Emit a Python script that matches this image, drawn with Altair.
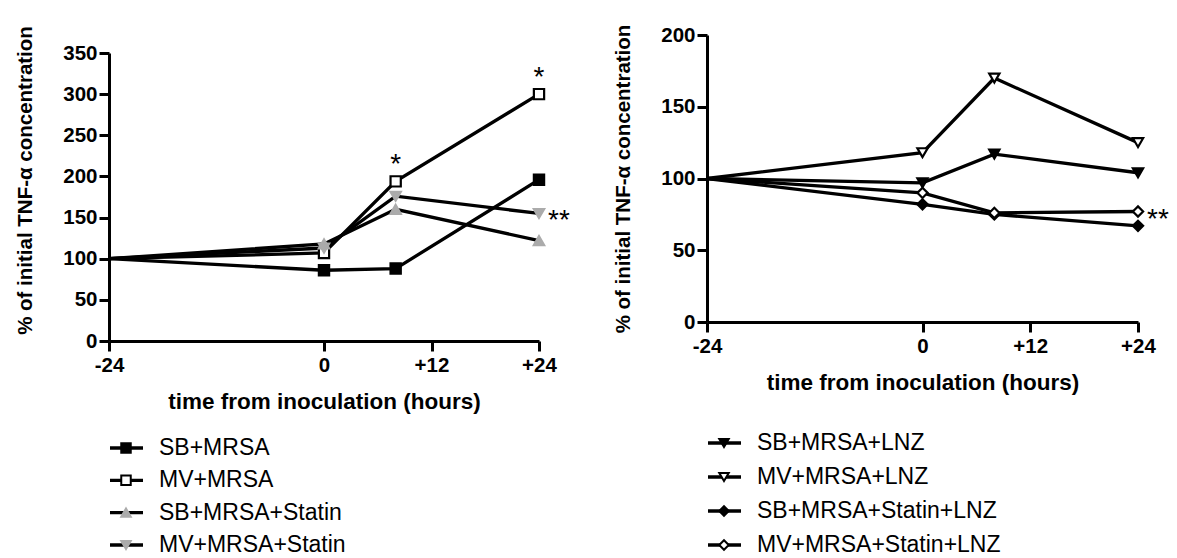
import altair as alt
import pandas as pd

FONT = "Liberation Sans"

# ---------------- data ----------------
time_h = [-24, 0, 8, 24]

left_series = ["SB+MRSA", "MV+MRSA", "SB+MRSA+Statin", "MV+MRSA+Statin"]
sb_mrsa = [100, 86, 88, 196]
mv_mrsa = [100, 107, 194, 300]
sb_mrsa_statin = [100, 118, 160, 122]
mv_mrsa_statin = [100, 113, 176, 155]

right_series = ["SB+MRSA+LNZ", "MV+MRSA+LNZ", "SB+MRSA+Statin+LNZ", "MV+MRSA+Statin+LNZ"]
sb_mrsa_lnz = [100, 97, 117, 104]
mv_mrsa_lnz = [100, 118, 170, 125]
sb_mrsa_statin_lnz = [100, 82, 75, 67]
mv_mrsa_statin_lnz = [100, 90, 76, 77]

x_ticks = [-24, 0, 12, 24]
left_y_ticks = [0, 50, 100, 150, 200, 250, 300, 350]
right_y_ticks = [0, 50, 100, 150, 200]

left_ann_time = [8, 24, 24]
left_ann_value = [194, 300, 155]
left_ann_text = ["*", "*", "**"]
left_ann_place = ["above", "above", "right"]

right_ann_time = [24]
right_ann_value = [77]
right_ann_text = ["**"]
right_ann_place = ["right"]

# ---------------- styles ----------------
GREY = "#ababab"
left_shapes = ["square", "square", "triangle-up", "triangle-down"]
left_fills = ["black", "white", GREY, GREY]
left_strokes = ["black", "black", GREY, GREY]
right_shapes = ["triangle-down", "triangle-down", "diamond", "diamond"]
right_fills = ["black", "white", "black", "white"]
right_strokes = ["black", "black", "black", "black"]

Y_TITLE = "% of initial TNF-α concentration"
X_TITLE = "time from inoculation (hours)"


def make_df(series, values_list):
    rows = []
    for s, vals in zip(series, values_list):
        for t, v in zip(time_h, vals):
            rows.append({"series": s, "time": t, "value": v})
    return pd.DataFrame(rows)


def panel(series, values_list, shapes, fills, strokes, y_ticks, ymax,
          a_t, a_v, a_txt, a_place, width, height, title_y=None):
    df = make_df(series, values_list)
    x = alt.X("time:Q",
              scale=alt.Scale(domain=[-24, 24], nice=False, zero=False),
              axis=alt.Axis(values=x_ticks, title=X_TITLE,
                            labelExpr="datum.value > 0 ? '+' + datum.value : '' + datum.value"))
    yaxis_kw = dict(values=y_ticks, title=Y_TITLE)
    if title_y is not None:
        yaxis_kw["titleY"] = title_y
    y = alt.Y("value:Q",
              scale=alt.Scale(domain=[0, ymax], nice=False),
              axis=alt.Axis(**yaxis_kw))
    base = alt.Chart(df)
    lines = base.mark_line(color="black", strokeWidth=3.3).encode(
        x=x, y=y, detail="series:N", order="time:Q")
    # the baseline point at -24 h (100 %) carries no marker in the original
    pts = base.transform_filter("datum.time > -24").mark_point(
        filled=True, size=105, strokeWidth=2.2, opacity=1).encode(
        x=x, y=y,
        shape=alt.Shape("series:N", scale=alt.Scale(domain=series, range=shapes), legend=None),
        fill=alt.Fill("series:N", scale=alt.Scale(domain=series, range=fills), legend=None),
        stroke=alt.Stroke("series:N", scale=alt.Scale(domain=series, range=strokes), legend=None),
    )
    ann = pd.DataFrame({"time": a_t, "value": a_v, "txt": a_txt, "place": a_place})
    abase = alt.Chart(ann)
    above = abase.transform_filter("datum.place == 'above'").mark_text(
        font=FONT, fontSize=28, baseline="alphabetic", align="center", dy=-8).encode(
        x=x, y=y, text="txt:N")
    right = abase.transform_filter("datum.place == 'right'").mark_text(
        font=FONT, fontSize=28, baseline="alphabetic", align="left", dx=9, dy=16).encode(
        x=x, y=y, text="txt:N")
    return alt.layer(lines, pts, above, right).properties(width=width, height=height)


def legend(series, shapes, fills, strokes, width, height):
    df = pd.DataFrame({"series": series})
    y = alt.Y("series:N", sort=series, axis=None,
              scale=alt.Scale(type="point", padding=0))
    base = alt.Chart(df).encode(y=y)
    seg = base.mark_rule(color="black", strokeWidth=3.3).encode(
        x=alt.value(1), x2=alt.value(34))
    sym = base.mark_point(filled=True, size=90, strokeWidth=2, opacity=1).encode(
        x=alt.value(17),
        shape=alt.Shape("series:N", scale=alt.Scale(domain=series, range=shapes), legend=None),
        fill=alt.Fill("series:N", scale=alt.Scale(domain=series, range=fills), legend=None),
        stroke=alt.Stroke("series:N", scale=alt.Scale(domain=series, range=strokes), legend=None),
    )
    txt = base.mark_text(align="left", baseline="middle", font=FONT, fontSize=23).encode(
        x=alt.value(50), text="series:N")
    return alt.layer(seg, sym, txt).properties(width=width, height=height)


def spacer(h):
    return alt.Chart(pd.DataFrame({"v": [0]})).mark_rule(opacity=0, strokeWidth=0.1).encode(
        y=alt.value(0)).properties(width=1, height=h)


left_plot = panel(left_series, [sb_mrsa, mv_mrsa, sb_mrsa_statin, mv_mrsa_statin],
                  left_shapes, left_fills, left_strokes, left_y_ticks, 350,
                  left_ann_time, left_ann_value, left_ann_text, left_ann_place, 430, 288,
                  title_y=127)
right_plot = panel(right_series, [sb_mrsa_lnz, mv_mrsa_lnz, sb_mrsa_statin_lnz, mv_mrsa_statin_lnz],
                   right_shapes, right_fills, right_strokes, right_y_ticks, 200,
                   right_ann_time, right_ann_value, right_ann_text, right_ann_place, 431, 287)

left_col = alt.vconcat(
    spacer(3),
    alt.vconcat(left_plot, legend(left_series, left_shapes, left_fills, left_strokes, 240, 97),
                spacing=24),
    spacing=0).resolve_scale(shape="shared", fill="shared", stroke="shared")
right_col = alt.vconcat(
    spacer(1.5),
    alt.vconcat(right_plot, legend(right_series, right_shapes, right_fills, right_strokes, 240, 102),
                spacing=38),
    spacing=0).resolve_scale(shape="shared", fill="shared", stroke="shared")

chart = alt.hconcat(left_col, right_col, spacing=43).resolve_scale(
    shape="independent", fill="independent", stroke="independent"
).properties(
    padding={"left": 7, "top": 14, "right": 0, "bottom": 0}
).configure_view(stroke=None).configure_axis(
    domainColor="black", domainWidth=3, tickColor="black", tickWidth=3, tickSize=10,
    grid=False, labelFont=FONT, labelFontWeight="bold", labelFontSize=20.5, labelColor="black",
    labelFlush=False, labelOverlap=False,
    titleFont=FONT, titleFontWeight="bold", titleColor="black",
).configure_axisX(labelPadding=4, titlePadding=15, titleFontSize=22.5).configure_axisY(
    labelPadding=2, titlePadding=27.5, titleFontSize=20.5)

chart.save("out.html", embed_options={"renderer": "svg", "actions": False})
